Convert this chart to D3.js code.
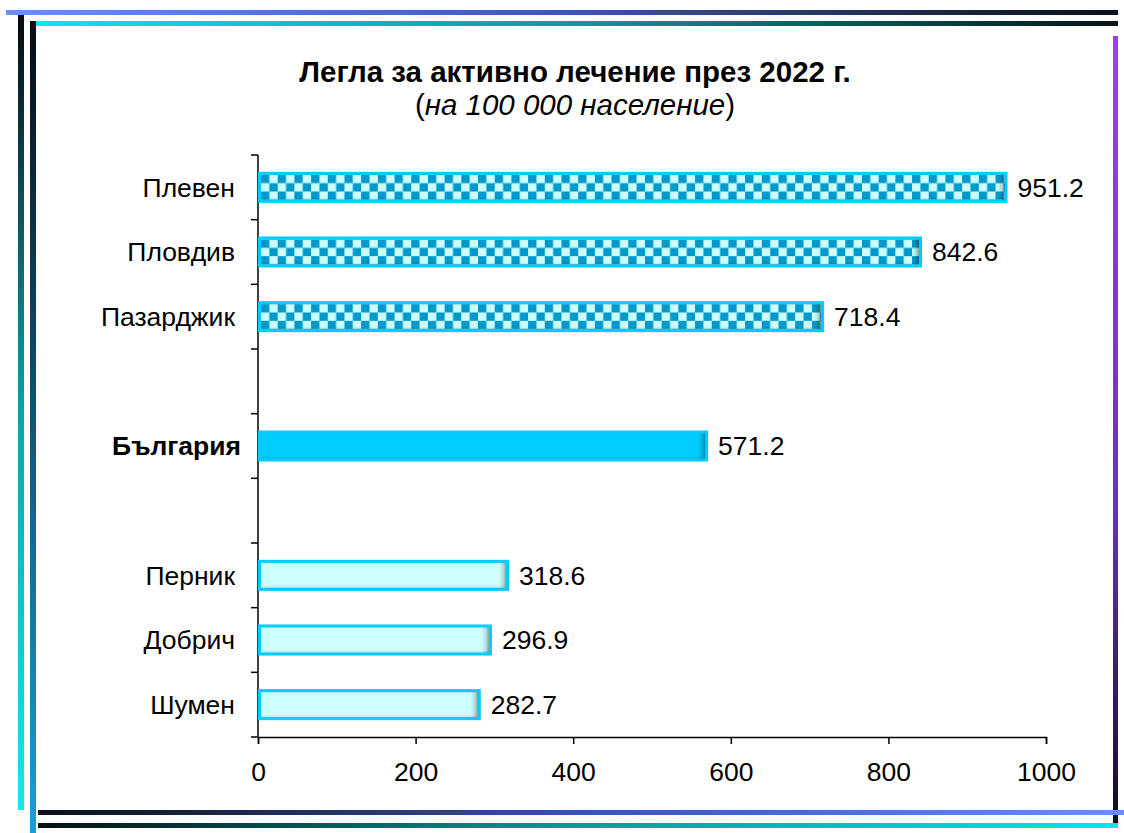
<!DOCTYPE html>
<html>
<head>
<meta charset="utf-8">
<script src="https://cdn.jsdelivr.net/npm/d3@7"></script>
<style>
  html, body { margin: 0; padding: 0; background: #ffffff; }
  svg { display: block; font-family: "Liberation Sans", Arial, sans-serif; }
</style>
</head>
<body>
<svg id="chart" width="1124" height="833"></svg>
<script>
// ---- data ----
const slots = ["Плевен", "Пловдив", "Пазарджик", "_gap1", "България", "_gap2", "Перник", "Добрич", "Шумен"];
const regions = ["Плевен", "Пловдив", "Пазарджик", "България", "Перник", "Добрич", "Шумен"];
const values = [951.2, 842.6, 718.4, 571.2, 318.6, 296.9, 282.7];
const groups = ["high", "high", "high", "national", "low", "low", "low"];
const xTicks = [0, 200, 400, 600, 800, 1000];
const titleText = "Легла за активно лечение през 2022 г.";
const subtitleText = "на 100 000 население";

const W = 1124, H = 833;
const svg = d3.select("#chart");
const defs = svg.append("defs");
const FS = 26.5;

// ---- gradients helper ----
function lg(id, x1, y1, x2, y2, stops) {
  const g = defs.append("linearGradient").attr("id", id)
    .attr("x1", x1).attr("y1", y1).attr("x2", x2).attr("y2", y2);
  stops.forEach(s => g.append("stop").attr("offset", s[0]).attr("stop-color", s[1]).attr("stop-opacity", s[2] == null ? 1 : s[2]));
  return g;
}
lg("gTop1", 0, 0, 1, 0, [[0, "#6b8ff2"], [0.5, "#3f5aa0"], [1, "#0b0f1a"]]);
lg("gTop2", 0, 0, 1, 0, [[0, "#00e8e8"], [0.5, "#0c9a9a"], [1, "#051515"]]);
lg("gLeft1", 0, 0, 0, 1, [[0, "#050a10"], [0.5, "#12a0a8"], [1, "#10e8f0"]]);
lg("gLeft2", 0, 0, 0, 1, [[0, "#060c14"], [0.5, "#10557a"], [1, "#1aa0d8"]]);
lg("gRight", 0, 0, 0, 1, [[0, "#9a40f8"], [0.6, "#6a30c0"], [1, "#120a20"]]);
lg("gBot1", 0, 0, 1, 0, [[0, "#0a0f1a"], [0.5, "#3a55a0"], [1, "#6b8ff2"]]);
lg("gBot2", 0, 0, 1, 0, [[0, "#041010"], [0.5, "#0c9a9a"], [1, "#00e8e8"]]);
lg("shadeV", 0, 0, 0, 1, [[0, "#000000", 0.12], [0.15, "#ffffff", 0.0], [0.85, "#000000", 0.0], [1, "#000000", 0.18]]);
lg("shadeR", 0, 0, 1, 0, [[0, "#000000", 0.0], [0.5, "#000000", 0.15], [1, "#000000", 0.45]]);

// ---- frame ----
const frame = svg.append("g");
frame.append("rect").attr("x", 6).attr("y", 10).attr("width", 1112).attr("height", 5).attr("fill", "url(#gTop1)");
frame.append("rect").attr("x", 34).attr("y", 21).attr("width", 1084).attr("height", 5).attr("fill", "url(#gTop2)");
frame.append("rect").attr("x", 18).attr("y", 15).attr("width", 6).attr("height", 795).attr("fill", "url(#gLeft1)");
frame.append("rect").attr("x", 30).attr("y", 21).attr("width", 6).attr("height", 812).attr("fill", "url(#gLeft2)");
frame.append("rect").attr("x", 1113).attr("y", 36).attr("width", 5).attr("height", 792).attr("fill", "url(#gRight)");
frame.append("rect").attr("x", 38).attr("y", 810).attr("width", 1086).attr("height", 5).attr("fill", "url(#gBot1)");
frame.append("rect").attr("x", 38).attr("y", 823).attr("width", 1080).attr("height", 5).attr("fill", "url(#gBot2)");

// ---- title ----
svg.append("text").attr("x", 575).attr("y", 82).attr("text-anchor", "middle")
  .attr("font-size", 29.5).attr("font-weight", "bold").attr("fill", "#000").text(titleText);
const sub = svg.append("text").attr("x", 575).attr("y", 115).attr("text-anchor", "middle")
  .attr("font-size", 29.5).attr("fill", "#000");
sub.append("tspan").text("(");
sub.append("tspan").attr("font-style", "italic").text(subtitleText);
sub.append("tspan").text(")");

// ---- scales ----
const x = d3.scaleLinear().domain([0, 1000]).range([258, 1046]);
const y = d3.scaleBand().domain(slots).range([155, 737]).paddingInner(0.52).paddingOuter(0.26);
const step = y.step();
const bw = y.bandwidth();

// per-bar checker patterns aligned to each bar's inner area
const inner = bw - 6;
const sq = inner / 3;
regions.forEach((d, i) => {
  if (groups[i] !== "high") return;
  const p = defs.append("pattern").attr("id", "checker" + i)
    .attr("patternUnits", "userSpaceOnUse").attr("width", 2 * sq).attr("height", 2 * sq)
    .attr("x", x(0) + 3).attr("y", y(d) + 3);
  p.append("rect").attr("width", 2 * sq).attr("height", 2 * sq).attr("fill", "#ccffff");
  p.append("rect").attr("width", sq).attr("height", sq).attr("fill", "#0099cc");
  p.append("rect").attr("x", sq).attr("y", sq).attr("width", sq).attr("height", sq).attr("fill", "#0099cc");
});

// ---- axes ----
const xAxis = d3.axisBottom(x).tickValues(xTicks).tickSize(7).tickPadding(18).tickFormat(d3.format("d"));
const xg = svg.append("g").attr("transform", "translate(0,737)").call(xAxis);
xg.select(".domain").attr("stroke", "#000").attr("stroke-width", 1.5);
xg.selectAll(".tick line").attr("stroke", "#000").attr("stroke-width", 1.5);
xg.selectAll(".tick text").attr("font-size", FS).attr("fill", "#000")
  .attr("font-family", "'Liberation Sans', Arial, sans-serif");

// y axis line and boundary ticks
const yLine = svg.append("g");
yLine.append("line").attr("x1", 258).attr("x2", 258).attr("y1", 155).attr("y2", 737)
  .attr("stroke", "#000").attr("stroke-width", 1.5);
const boundaries = d3.range(slots.length + 1).map(i => 155 + i * step);
yLine.selectAll("line.tk").data(boundaries).join("line").attr("class", "tk")
  .attr("x1", 251).attr("x2", 258).attr("y1", d => d).attr("y2", d => d)
  .attr("stroke", "#000").attr("stroke-width", 1.5);

// category labels
svg.append("g").selectAll("text").data(regions).join("text")
  .attr("x", (d, i) => groups[i] === "national" ? 241 : 235)
  .attr("y", d => y(d) + bw / 2)
  .attr("dy", "0.35em").attr("text-anchor", "end").attr("font-size", FS)
  .attr("font-weight", (d, i) => groups[i] === "national" ? "bold" : "normal")
  .attr("fill", "#000").text(d => d);

// ---- bars ----
const fillFor = (g, i) => g === "high" ? "url(#checker" + i + ")" : (g === "national" ? "#00ccff" : "#ccffff");
const bars = svg.append("g").selectAll("g").data(regions).join("g");
bars.append("rect")
  .attr("x", x(0) + 1.5).attr("y", d => y(d) + 1.5)
  .attr("width", (d, i) => x(values[i]) - x(0) - 3).attr("height", bw - 3)
  .attr("fill", (d, i) => fillFor(groups[i], i));
bars.append("rect")
  .attr("x", x(0) + 1.5).attr("y", d => y(d) + 1.5)
  .attr("width", (d, i) => x(values[i]) - x(0) - 3).attr("height", bw - 3)
  .attr("fill", "url(#shadeV)");
bars.append("rect")
  .attr("x", (d, i) => x(values[i]) - 10).attr("y", d => y(d) + 1.5)
  .attr("width", 8.5).attr("height", bw - 3)
  .attr("fill", "url(#shadeR)");
bars.append("rect")
  .attr("x", x(0) + 1.5).attr("y", d => y(d) + 1.5)
  .attr("width", (d, i) => x(values[i]) - x(0) - 3).attr("height", bw - 3)
  .attr("fill", "none").attr("stroke", "#00ccff").attr("stroke-width", 3);

// value labels
svg.append("g").selectAll("text").data(regions).join("text")
  .attr("x", (d, i) => x(values[i]) + 10).attr("y", d => y(d) + bw / 2)
  .attr("dy", "0.35em").attr("font-size", FS).attr("fill", "#000")
  .text((d, i) => d3.format(".1f")(values[i]));
</script>
</body>
</html>
